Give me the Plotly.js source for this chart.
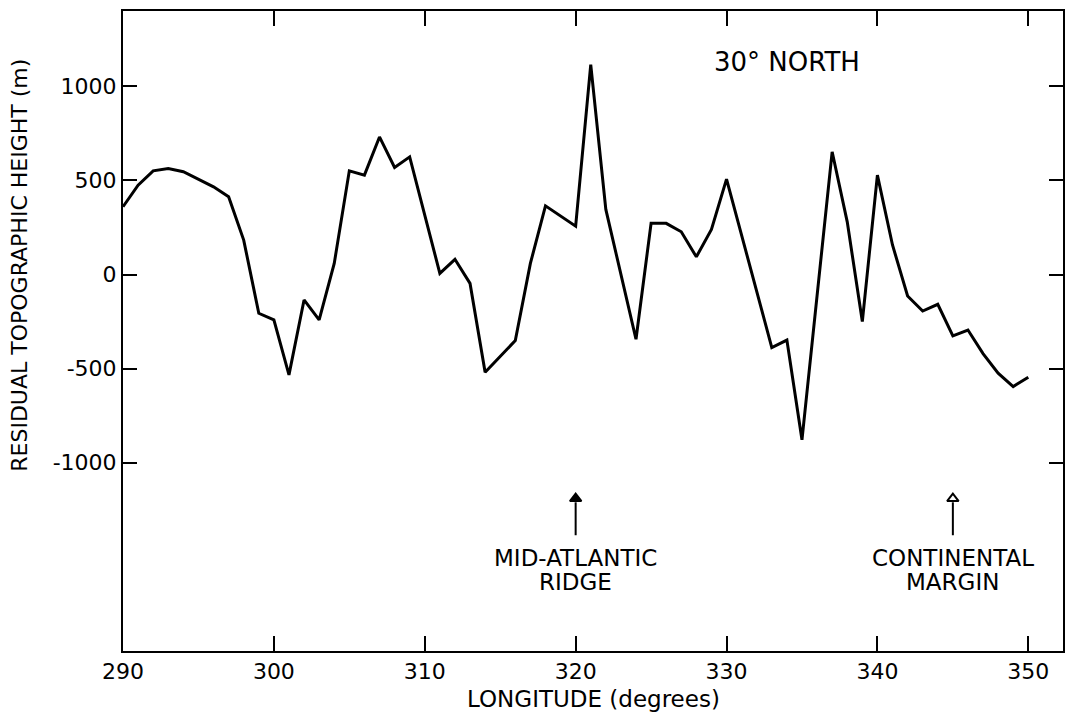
<!DOCTYPE html>
<html>
<head>
<meta charset="utf-8">
<script src="https://cdn.plot.ly/plotly-3.0.1.min.js"></script>
<style>
  html, body { margin: 0; padding: 0; background: #fff; }
  #chart { width: 1065px; height: 713px; }
</style>
</head>
<body>
<div id="chart"></div>
<script>
// Longitude (degrees) of each vertex of the profile
const longitude = [290, 291, 292, 293, 294, 295, 296, 297, 298, 299, 300, 301, 302, 303, 304, 305, 306, 307, 308, 309,
                   311, 312, 313, 314, 316, 317, 318, 320, 321, 322, 324, 325, 326, 327, 328, 329, 330,
                   333, 334, 335, 337, 338, 339, 340, 341, 342, 343, 344, 345, 346, 347, 348, 349, 350];
// Residual topographic height (m)
const height = [360, 475, 551, 563, 546, 507, 466, 413, 183, -206, -241, -533, -135, -241, 59, 551, 528, 731, 569, 625,
                6, 81, -47, -519, -351, 59, 365, 257, 1115, 346, -344, 272, 272, 227, 94, 240, 507,
                -388, -348, -878, 652, 280, -250, 528, 157, -114, -194, -158, -326, -295, -420, -524, -595, -546];

const xTicks = [290, 300, 310, 320, 330, 340, 350];
const yTicks = [-1000, -500, 0, 500, 1000];

const plotTitle = '30° NORTH';
const xTitle = 'LONGITUDE (degrees)';
const yTitle = 'RESIDUAL TOPOGRAPHIC HEIGHT (m)';
const markerLine1 = ['MID-ATLANTIC', 'CONTINENTAL'];
const markerLine2 = ['RIDGE', 'MARGIN'];
const markerLongitudes = [320, 345];

const FONT = 'DejaVu Sans, Liberation Sans, sans-serif';
const tipY = -1190, tailY = -1385, line1Y = -1505, line2Y = -1632;

const traces = [
  {
    x: longitude, y: height, type: 'scatter', mode: 'lines',
    line: { color: '#000', width: 3 }, hoverinfo: 'x+y', showlegend: false
  },
  {
    x: markerLongitudes, y: markerLongitudes.map(() => tipY), type: 'scatter', mode: 'markers',
    marker: { symbol: ['triangle-up', 'triangle-up-open'], size: 10, color: '#000',
              line: { color: '#000', width: 2 } },
    hoverinfo: 'skip', showlegend: false
  }
];

const shapes = markerLongitudes.map(x => ({
  type: 'line', xref: 'x', yref: 'y', x0: x, x1: x, y0: tipY - 20, y1: tailY,
  line: { color: '#000', width: 2 }
}));

const labelFont = { family: FONT, size: 23, color: '#000' };
const annotations = [
  { x: 334, y: 1128, xref: 'x', yref: 'y', text: plotTitle, showarrow: false,
    font: { family: FONT, size: 26, color: '#000' } },
  { x: -0.11, y: 50, xref: 'paper', yref: 'y', text: yTitle, textangle: -90,
    showarrow: false, xanchor: 'center', yanchor: 'middle',
    font: { family: FONT, size: 22, color: '#000' } },
  { x: 0.5, y: -0.075, xref: 'paper', yref: 'paper', text: xTitle,
    showarrow: false, xanchor: 'center', yanchor: 'middle',
    font: { family: FONT, size: 23, color: '#000' } },
  ...markerLongitudes.map((x, i) => ({
    x: x, y: line1Y, xref: 'x', yref: 'y', text: markerLine1[i], showarrow: false, font: labelFont
  })),
  ...markerLongitudes.map((x, i) => ({
    x: x, y: line2Y, xref: 'x', yref: 'y', text: markerLine2[i], showarrow: false, font: labelFont
  }))
];

const layout = {
  width: 1065, height: 713,
  margin: { l: 123, r: 2, t: 11, b: 62 },
  paper_bgcolor: '#fff', plot_bgcolor: '#fff',
  font: { family: FONT, color: '#000' },
  showlegend: false,
  xaxis: {
    range: [290, 352.3], tickvals: xTicks, ticktext: xTicks.map(String),
    ticks: 'inside', ticklen: 15, tickwidth: 2, tickcolor: '#000',
    showline: true, linecolor: '#000', linewidth: 2, mirror: 'ticks',
    showgrid: false, zeroline: false,
    tickfont: { family: FONT, size: 22, color: '#000' }
  },
  yaxis: {
    range: [-2000, 1400], tickvals: yTicks, ticktext: yTicks.map(String),
    ticks: 'inside', ticklen: 14, tickwidth: 2, tickcolor: '#000',
    showline: true, linecolor: '#000', linewidth: 2, mirror: 'ticks',
    showgrid: false, zeroline: false,
    tickfont: { family: FONT, size: 22, color: '#000' }
  },
  shapes: shapes,
  annotations: annotations
};

Plotly.newPlot('chart', traces, layout, { displayModeBar: false, staticPlot: true });
</script>
</body>
</html>
